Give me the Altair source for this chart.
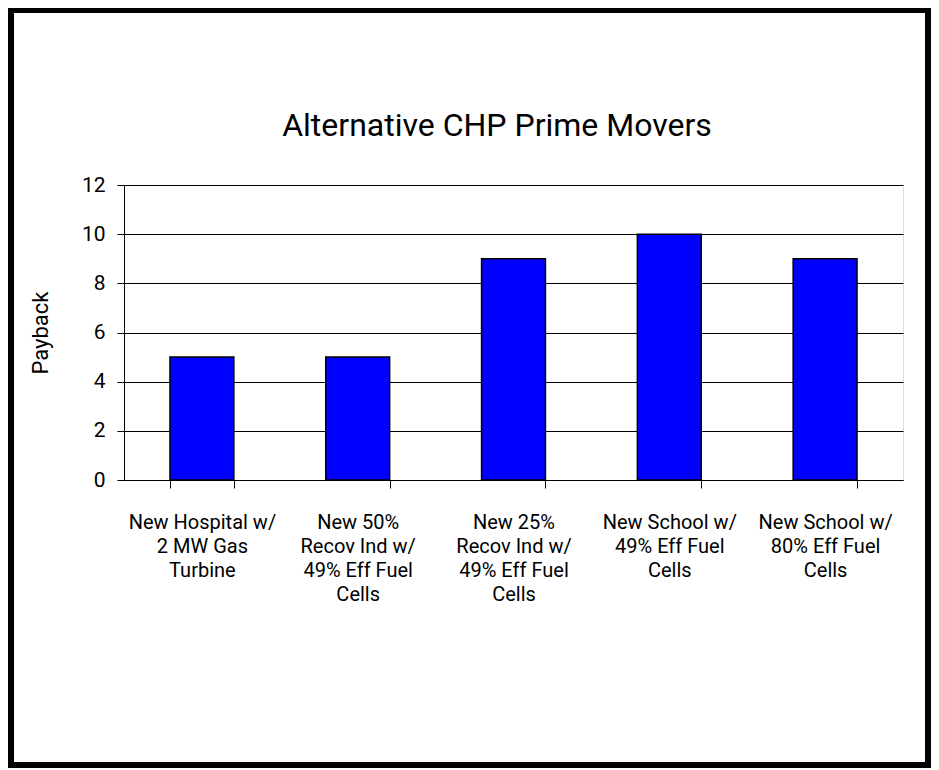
import altair as alt
import pandas as pd

categories = [
    "New Hospital w/|2 MW Gas|Turbine",
    "New 50%|Recov Ind w/|49%  Eff Fuel|Cells",
    "New 25%|Recov Ind w/|49%  Eff Fuel|Cells",
    "New School w/|49%  Eff Fuel|Cells",
    "New School w/|80%  Eff Fuel|Cells",
]
payback = [5, 5, 9, 10, 9]
y_ticks = [0, 2, 4, 6, 8, 10, 12]
title_text = "Alternative CHP Prime Movers"

FONT = "Roboto"
W, H = 779, 295

df = pd.DataFrame({"cat": categories, "payback": payback})

bars = alt.Chart(df).mark_bar(
    color="#0000FF", stroke="#000000", strokeWidth=1.5
).encode(
    x=alt.X(
        "cat:N",
        sort=None,
        scale=alt.Scale(paddingInner=0.59, paddingOuter=0.295),
        axis=alt.Axis(
            title=None,
            labelAngle=0,
            labelExpr="split(datum.label, '|')",
            labelFont=FONT,
            labelFontSize=20,
            labelLineHeight=24,
            labelColor="#000000",
            labelPadding=24,
            labelBaseline="top",
            tickBand="extent",
            tickSize=8,
            tickColor="#000000",
            domainColor="#000000",
            grid=False,
        ),
    ),
    y=alt.Y(
        "payback:Q",
        scale=alt.Scale(domain=[0, 12], nice=False),
        axis=alt.Axis(
            title="Payback",
            values=y_ticks,
            titleFont=FONT,
            titleFontSize=22,
            titleFontWeight="normal",
            titleColor="#000000",
            titleX=-84,
            titleY=H / 2,
            titleAngle=270,
            titleBaseline="middle",
            labelFont=FONT,
            labelFontSize=21,
            labelColor="#000000",
            labelPadding=12,
            tickSize=7,
            tickColor="#000000",
            domainColor="#000000",
            gridColor="#000000",
            gridWidth=1,
        ),
    ),
)

single = alt.Data(values=[{"t": title_text}])

title = alt.Chart(single).mark_text(
    font=FONT, fontSize=32, color="#000000", align="center", baseline="alphabetic"
).encode(text="t:N", x=alt.value(373), y=alt.value(-49))

frame = alt.Chart(single).mark_rect(
    fill=None, stroke="#000000", strokeWidth=6
).encode(
    x=alt.value(-113), x2=alt.value(804), y=alt.value(-175), y2=alt.value(580)
)

chart = alt.layer(bars, title, frame).properties(
    width=W,
    height=H,
    autosize=alt.AutoSizeParams(type="none"),
    padding={"left": 116, "top": 177, "right": 28, "bottom": 288},
).configure_view(stroke="#808080", strokeWidth=1).configure(background="#ffffff")

chart.save("out.html", embed_options={"renderer": "svg", "actions": False})
